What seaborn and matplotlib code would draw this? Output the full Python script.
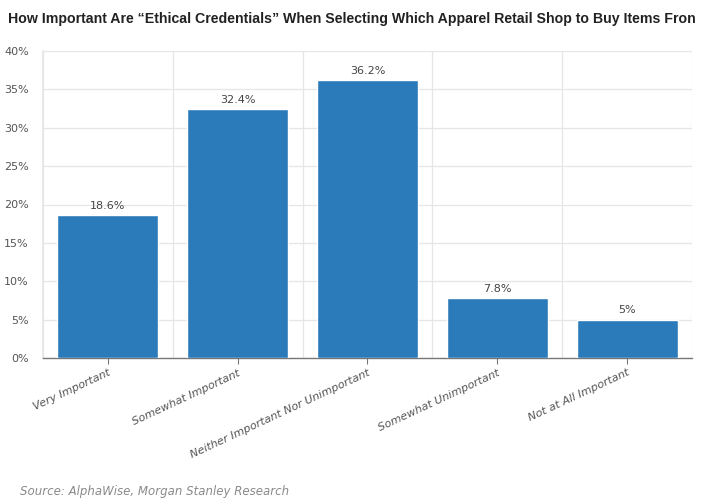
import matplotlib
matplotlib.use("Agg")
import matplotlib.pyplot as plt
import seaborn as sns
import pandas as pd
import numpy as np
from matplotlib.ticker import FixedLocator, FuncFormatter

categories = ["Very Important", "Somewhat Important", "Neither Important Nor Unimportant",
              "Somewhat Unimportant", "Not at All Important"]
values = [18.6, 32.4, 36.2, 7.8, 5.0]
value_labels = ["18.6%", "32.4%", "36.2%", "7.8%", "5%"]
yticks = [0, 5, 10, 15, 20, 25, 30, 35, 40]

title = "How Important Are \u201cEthical Credentials\u201d When Selecting Which Apparel Retail Shop to Buy Items Fron"
source = "Source: AlphaWise, Morgan Stanley Research"

sns.set_theme(style="white")
plt.rcParams['font.family'] = ['DejaVu Sans']

df = pd.DataFrame({"cat": categories, "val": values})

fig = plt.figure(figsize=(7.02, 5.0), dpi=100)
ax = fig.add_axes([0.061, 0.284, 0.925, 0.614])

sns.barplot(data=df, x="cat", y="val", color="#2b7bba", saturation=1, width=0.78, ax=ax, zorder=3)

ax.set_ylim(0, 40)
ax.set_xlim(-0.5, len(categories) - 0.5)
ax.yaxis.set_major_locator(FixedLocator(yticks))
ax.yaxis.set_major_formatter(FuncFormatter(lambda v, p: f"{int(v)}%"))
ax.grid(axis="y", color="#e6e6e6", linewidth=0.9, zorder=0)
ax.set_xticks(np.arange(-0.5, len(categories) - 0.4, 1), minor=True)
ax.grid(axis="x", which="minor", color="#e6e6e6", linewidth=0.9, zorder=0)
ax.set_xlabel("")
ax.set_ylabel("")

for s in ["top", "right"]:
    ax.spines[s].set_visible(False)
ax.spines["left"].set_color("#e6e6e6")
ax.spines["bottom"].set_color("#777777")
ax.spines["bottom"].set_linewidth(1.0)

ax.tick_params(axis="y", labelsize=8, colors="#555555", length=0, pad=10)
ax.tick_params(axis="x", which="major", labelsize=8, colors="#555555", length=4,
               width=0.8, direction="out", bottom=True, color="#777777", pad=3)
ax.tick_params(axis="x", which="minor", length=0)
ax.set_xticks(range(len(categories)))
ax.set_xticklabels(categories, rotation=25, ha="right", rotation_mode="anchor", fontstyle="italic")

for i, (v, lab) in enumerate(zip(values, value_labels)):
    ax.text(i, v + 0.6, lab, ha="center", va="bottom", fontsize=8, color="#444444")

t = fig.text(0.012, 0.963, title, fontsize=10, fontweight="bold", color="#222222",
             va="center", ha="left", family=["Liberation Sans", "DejaVu Sans"])
renderer = fig.canvas.get_renderer()
w = t.get_window_extent(renderer).width
target = 688.0
t.set_fontsize(10 * target / w)

fig.text(0.028, 0.016, source, fontsize=8.5, fontstyle="italic", color="#8a8a8a", va="center", ha="left")

fig.savefig("out.png", dpi=100, facecolor="white")
